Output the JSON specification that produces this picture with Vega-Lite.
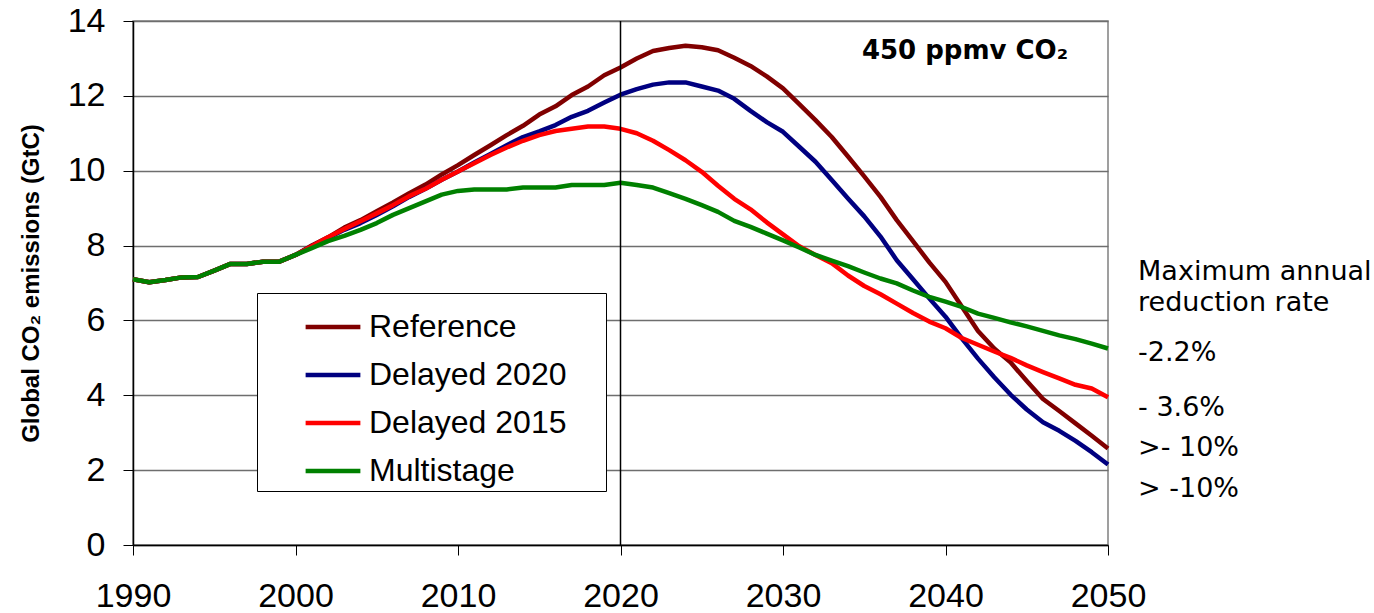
{
  "$schema": "https://vega.github.io/schema/vega-lite/v6.json",
  "width": 975,
  "height": 524,
  "autosize": {"type": "none"},
  "padding": {"left": 133, "top": 21, "right": 266, "bottom": 68},
  "background": "white",
  "config": {
    "view": {"stroke": "#808080", "strokeWidth": 1.5},
    "font": "Liberation Sans"
  },
  "datasets": {
    "emissions": [
      {"year": 1990, "Reference": 7.1, "Delayed 2020": 7.1, "Delayed 2015": 7.1, "Multistage": 7.1},
      {"year": 1991, "Reference": 7.02, "Delayed 2020": 7.02, "Delayed 2015": 7.02, "Multistage": 7.02},
      {"year": 1992, "Reference": 7.08, "Delayed 2020": 7.08, "Delayed 2015": 7.08, "Multistage": 7.08},
      {"year": 1993, "Reference": 7.15, "Delayed 2020": 7.15, "Delayed 2015": 7.15, "Multistage": 7.15},
      {"year": 1994, "Reference": 7.16, "Delayed 2020": 7.16, "Delayed 2015": 7.16, "Multistage": 7.16},
      {"year": 1995, "Reference": 7.33, "Delayed 2020": 7.33, "Delayed 2015": 7.33, "Multistage": 7.33},
      {"year": 1996, "Reference": 7.51, "Delayed 2020": 7.51, "Delayed 2015": 7.51, "Multistage": 7.51},
      {"year": 1997, "Reference": 7.51, "Delayed 2020": 7.51, "Delayed 2015": 7.51, "Multistage": 7.51},
      {"year": 1998, "Reference": 7.57, "Delayed 2020": 7.57, "Delayed 2015": 7.57, "Multistage": 7.57},
      {"year": 1999, "Reference": 7.57, "Delayed 2020": 7.57, "Delayed 2015": 7.57, "Multistage": 7.57},
      {"year": 2000, "Reference": 7.75, "Delayed 2020": 7.75, "Delayed 2015": 7.75, "Multistage": 7.75},
      {"year": 2001, "Reference": 8.0, "Delayed 2020": 7.98, "Delayed 2015": 7.98, "Multistage": 7.93},
      {"year": 2002, "Reference": 8.22, "Delayed 2020": 8.2, "Delayed 2015": 8.22, "Multistage": 8.12},
      {"year": 2003, "Reference": 8.48, "Delayed 2020": 8.42, "Delayed 2015": 8.44, "Multistage": 8.26},
      {"year": 2004, "Reference": 8.68, "Delayed 2020": 8.6, "Delayed 2015": 8.65, "Multistage": 8.42},
      {"year": 2005, "Reference": 8.92, "Delayed 2020": 8.82, "Delayed 2015": 8.86, "Multistage": 8.6},
      {"year": 2006, "Reference": 9.15, "Delayed 2020": 9.05, "Delayed 2015": 9.08, "Multistage": 8.82},
      {"year": 2007, "Reference": 9.4, "Delayed 2020": 9.3, "Delayed 2015": 9.32, "Multistage": 9.0},
      {"year": 2008, "Reference": 9.63, "Delayed 2020": 9.52, "Delayed 2015": 9.52, "Multistage": 9.18},
      {"year": 2009, "Reference": 9.9, "Delayed 2020": 9.76, "Delayed 2015": 9.76, "Multistage": 9.36},
      {"year": 2010, "Reference": 10.15, "Delayed 2020": 9.98, "Delayed 2015": 9.98, "Multistage": 9.46},
      {"year": 2011, "Reference": 10.42, "Delayed 2020": 10.22, "Delayed 2015": 10.2, "Multistage": 9.5},
      {"year": 2012, "Reference": 10.68, "Delayed 2020": 10.45, "Delayed 2015": 10.42, "Multistage": 9.5},
      {"year": 2013, "Reference": 10.95, "Delayed 2020": 10.68, "Delayed 2015": 10.62, "Multistage": 9.5},
      {"year": 2014, "Reference": 11.2, "Delayed 2020": 10.9, "Delayed 2015": 10.8, "Multistage": 9.55},
      {"year": 2015, "Reference": 11.5, "Delayed 2020": 11.05, "Delayed 2015": 10.95, "Multistage": 9.55},
      {"year": 2016, "Reference": 11.72, "Delayed 2020": 11.22, "Delayed 2015": 11.06, "Multistage": 9.55},
      {"year": 2017, "Reference": 12.02, "Delayed 2020": 11.44, "Delayed 2015": 11.12, "Multistage": 9.62},
      {"year": 2018, "Reference": 12.25, "Delayed 2020": 11.6, "Delayed 2015": 11.18, "Multistage": 9.62},
      {"year": 2019, "Reference": 12.55, "Delayed 2020": 11.82, "Delayed 2015": 11.18, "Multistage": 9.62},
      {"year": 2020, "Reference": 12.76, "Delayed 2020": 12.03, "Delayed 2015": 11.12, "Multistage": 9.68},
      {"year": 2021, "Reference": 13.0, "Delayed 2020": 12.18, "Delayed 2015": 11.0, "Multistage": 9.62},
      {"year": 2022, "Reference": 13.2, "Delayed 2020": 12.3, "Delayed 2015": 10.8, "Multistage": 9.55},
      {"year": 2023, "Reference": 13.28, "Delayed 2020": 12.36, "Delayed 2015": 10.55, "Multistage": 9.4},
      {"year": 2024, "Reference": 13.34, "Delayed 2020": 12.36, "Delayed 2015": 10.28, "Multistage": 9.25},
      {"year": 2025, "Reference": 13.3, "Delayed 2020": 12.25, "Delayed 2015": 9.97, "Multistage": 9.08},
      {"year": 2026, "Reference": 13.22, "Delayed 2020": 12.14, "Delayed 2015": 9.6, "Multistage": 8.9},
      {"year": 2027, "Reference": 13.02, "Delayed 2020": 11.92, "Delayed 2015": 9.25, "Multistage": 8.66},
      {"year": 2028, "Reference": 12.8, "Delayed 2020": 11.6, "Delayed 2015": 8.97, "Multistage": 8.5},
      {"year": 2029, "Reference": 12.52, "Delayed 2020": 11.3, "Delayed 2015": 8.62, "Multistage": 8.32},
      {"year": 2030, "Reference": 12.2, "Delayed 2020": 11.04, "Delayed 2015": 8.3, "Multistage": 8.14},
      {"year": 2031, "Reference": 11.78, "Delayed 2020": 10.64, "Delayed 2015": 7.98, "Multistage": 7.95},
      {"year": 2032, "Reference": 11.35, "Delayed 2020": 10.24, "Delayed 2015": 7.75, "Multistage": 7.75},
      {"year": 2033, "Reference": 10.9, "Delayed 2020": 9.75, "Delayed 2015": 7.53, "Multistage": 7.6},
      {"year": 2034, "Reference": 10.38, "Delayed 2020": 9.26, "Delayed 2015": 7.2, "Multistage": 7.45},
      {"year": 2035, "Reference": 9.85, "Delayed 2020": 8.78, "Delayed 2015": 6.92, "Multistage": 7.28},
      {"year": 2036, "Reference": 9.3, "Delayed 2020": 8.24, "Delayed 2015": 6.7, "Multistage": 7.12},
      {"year": 2037, "Reference": 8.68, "Delayed 2020": 7.61, "Delayed 2015": 6.45, "Multistage": 6.99},
      {"year": 2038, "Reference": 8.12, "Delayed 2020": 7.1, "Delayed 2015": 6.2, "Multistage": 6.8},
      {"year": 2039, "Reference": 7.55, "Delayed 2020": 6.59, "Delayed 2015": 5.97, "Multistage": 6.63},
      {"year": 2040, "Reference": 7.03, "Delayed 2020": 6.1, "Delayed 2015": 5.79, "Multistage": 6.5},
      {"year": 2041, "Reference": 6.37, "Delayed 2020": 5.52, "Delayed 2015": 5.53, "Multistage": 6.36},
      {"year": 2042, "Reference": 5.72, "Delayed 2020": 4.98, "Delayed 2015": 5.35, "Multistage": 6.18},
      {"year": 2043, "Reference": 5.25, "Delayed 2020": 4.48, "Delayed 2015": 5.17, "Multistage": 6.07},
      {"year": 2044, "Reference": 4.88, "Delayed 2020": 4.02, "Delayed 2015": 5.0, "Multistage": 5.95},
      {"year": 2045, "Reference": 4.38, "Delayed 2020": 3.62, "Delayed 2015": 4.8, "Multistage": 5.84},
      {"year": 2046, "Reference": 3.9, "Delayed 2020": 3.28, "Delayed 2015": 4.62, "Multistage": 5.72},
      {"year": 2047, "Reference": 3.58, "Delayed 2020": 3.05, "Delayed 2015": 4.45, "Multistage": 5.6},
      {"year": 2048, "Reference": 3.25, "Delayed 2020": 2.78, "Delayed 2015": 4.28, "Multistage": 5.5},
      {"year": 2049, "Reference": 2.92, "Delayed 2020": 2.48, "Delayed 2015": 4.18, "Multistage": 5.38},
      {"year": 2050, "Reference": 2.58, "Delayed 2020": 2.15, "Delayed 2015": 3.95, "Multistage": 5.25}
    ],
    "notes": [
      {"year": 2051.85, "value": 7.3, "label": "Maximum annual"},
      {"year": 2051.85, "value": 6.47, "label": "reduction rate"},
      {"year": 2051.85, "value": 5.13, "label": "-2.2%"},
      {"year": 2051.85, "value": 3.66, "label": "- 3.6%"},
      {"year": 2051.85, "value": 2.59, "label": ">- 10%"},
      {"year": 2051.85, "value": 1.5, "label": "> -10%"}
    ],
    "heading": [
      {"year": 2041.2, "value": 13.2, "label": "450 ppmv CO₂"}
    ],
    "marker": [
      {"year": 2020}
    ]
  },
  "layer": [
    {
      "data": {"name": "emissions"},
      "transform": [
        {"fold": ["Reference", "Delayed 2020", "Delayed 2015", "Multistage"], "as": ["series", "value"]}
      ],
      "mark": {"type": "line", "strokeWidth": 4.5, "strokeJoin": "round"},
      "encoding": {
        "x": {
          "field": "year", "type": "quantitative",
          "scale": {"domain": [1990, 2050], "nice": false, "zero": false},
          "axis": {
            "values": [1990, 2000, 2010, 2020, 2030, 2040, 2050],
            "format": "d", "title": null, "grid": false,
            "domainColor": "black", "domainWidth": 1.5,
            "tickColor": "black", "tickSize": 10, "tickWidth": 1,
            "labelFont": "Liberation Sans Narrow, Liberation Sans",
            "labelFontSize": 34, "labelColor": "black", "labelPadding": 24,
            "labelFlush": false
          }
        },
        "y": {
          "field": "value", "type": "quantitative",
          "scale": {"domain": [0, 14], "nice": false},
          "axis": {
            "values": [0, 2, 4, 6, 8, 10, 12, 14],
            "title": "Global CO₂ emissions (GtC)",
            "titleFont": "Liberation Sans", "titleFontSize": 24, "titleFontWeight": "bold",
            "titleColor": "black", "titlePadding": 24,
            "grid": true, "gridColor": "#6e6e6e", "gridWidth": 1.5,
            "domainColor": "black", "domainWidth": 1.5,
            "tickColor": "black", "tickSize": 10,
            "labelFont": "Liberation Sans Narrow, Liberation Sans",
            "labelFontSize": 34, "labelColor": "black", "labelPadding": 18
          }
        },
        "color": {
          "field": "series", "type": "nominal",
          "scale": {
            "domain": ["Reference", "Delayed 2020", "Delayed 2015", "Multistage"],
            "range": ["#800000", "#000080", "#ff0000", "#008000"]
          },
          "legend": {
            "title": "\u00a0",
            "titleOrient": "right",
            "titlePadding": 36,
            "titleFontSize": 12,
            "orient": "none",
            "legendX": 124,
            "legendY": 272,
            "fillColor": "white",
            "strokeColor": "black",
            "padding": 4,
            "symbolType": "stroke",
            "symbolSize": 3000,
            "symbolStrokeWidth": 4.5,
            "symbolOffset": 42,
            "labelFont": "Liberation Sans",
            "labelFontSize": 32,
            "labelColor": "black",
            "labelOffset": 6,
            "labelLimit": 400,
            "rowPadding": 2
          }
        }
      }
    },
    {
      "data": {"name": "marker"},
      "mark": {"type": "rule", "color": "black", "strokeWidth": 1.5},
      "encoding": {
        "x": {"field": "year", "type": "quantitative", "scale": {"domain": [1990, 2050], "nice": false, "zero": false}}
      }
    },
    {
      "data": {"name": "notes"},
      "mark": {"type": "text", "align": "left", "baseline": "middle", "font": "DejaVu Sans", "fontSize": 27, "color": "black"},
      "encoding": {
        "x": {"field": "year", "type": "quantitative", "scale": {"domain": [1990, 2050], "nice": false, "zero": false}},
        "y": {"field": "value", "type": "quantitative", "scale": {"domain": [0, 14], "nice": false}},
        "text": {"field": "label"}
      }
    },
    {
      "data": {"name": "heading"},
      "mark": {"type": "text", "align": "center", "baseline": "middle", "font": "DejaVu Sans", "fontSize": 26, "fontWeight": "bold", "color": "black"},
      "encoding": {
        "x": {"field": "year", "type": "quantitative", "scale": {"domain": [1990, 2050], "nice": false, "zero": false}},
        "y": {"field": "value", "type": "quantitative", "scale": {"domain": [0, 14], "nice": false}},
        "text": {"field": "label"}
      }
    }
  ]
}
